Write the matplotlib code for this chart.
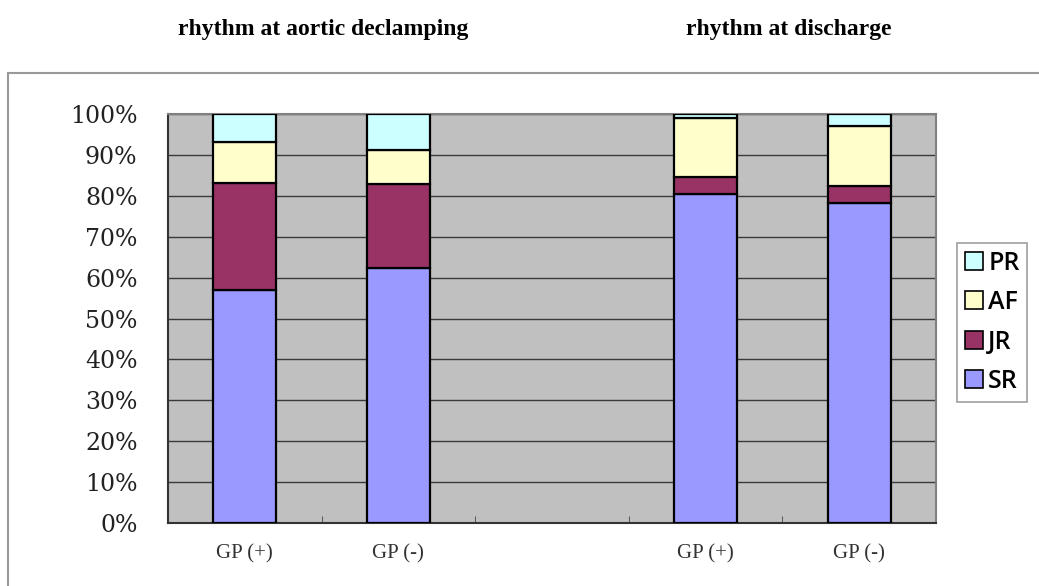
import matplotlib
matplotlib.use("Agg")
import matplotlib.pyplot as plt
from matplotlib.patches import Rectangle, Patch
import numpy as np

# stacked rhythm shares (%) per group; the middle slot is a spacer
groups = ["GP (+)", "GP (-)", "", "GP (+)", "GP (-)"]
sr = [57.0, 62.3, 0, 80.4, 78.3]
jr = [26.2, 20.5, 0, 4.2, 4.1]
af = [10.0, 8.5, 0, 14.3, 14.7]
pr = [6.8, 8.7, 0, 1.1, 2.9]

series = ["SR", "JR", "AF", "PR"]
colors = {"SR": "#9999FF", "JR": "#993366", "AF": "#FFFFCC", "PR": "#CCFFFF"}
values = {"SR": sr, "JR": jr, "AF": af, "PR": pr}
panel_titles = ["rhythm at aortic declamping", "rhythm at discharge"]

fig = plt.figure(figsize=(10.39, 5.86), dpi=100)
ax = fig.add_axes([168 / 1039, 1 - 523 / 586, 768 / 1039, 409 / 586])
ax.set_facecolor("#C0C0C0")

x = np.arange(len(groups))
bottom = np.zeros(len(groups))
for name in series:
    v = np.array(values[name])
    mask = v > 0
    ax.bar(x[mask], v[mask], width=0.41, bottom=bottom[mask],
           color=colors[name], edgecolor="black", linewidth=1.6, zorder=3)
    bottom += v

ax.set_xlim(-0.5, len(groups) - 0.5)
ax.set_ylim(0, 100)
ax.set_yticks(np.arange(0, 101, 10))
ax.set_yticklabels([f"{t}%" for t in range(0, 101, 10)], family="DejaVu Serif",
                   fontsize=17, color="#222222")
ax.tick_params(axis="y", length=0, pad=22)
ax.yaxis.grid(True, color="#3a3a3a", linewidth=1.0, zorder=1)
ax.set_axisbelow(True)

ax.set_xticks(x)
ax.set_xticklabels(groups, family="Liberation Serif", fontsize=15, color="#333333")
ax.tick_params(axis="x", length=0, pad=15)
ax.set_xticks(np.arange(0.5, len(groups) - 1, 1), minor=True)
ax.tick_params(axis="x", which="minor", direction="in", length=5, color="#444444")

for side in ["top", "right"]:
    ax.spines[side].set_color("#808080")
    ax.spines[side].set_linewidth(1.5)
for side in ["left", "bottom"]:
    ax.spines[side].set_color("#333333")
    ax.spines[side].set_linewidth(1.5)

# panel headings above the two halves
fig.text(323 / 1039, 1 - 30 / 586, panel_titles[0], ha="center", va="center",
         family="Liberation Serif", fontweight="bold", fontsize=17)
fig.text(789 / 1039, 1 - 30 / 586, panel_titles[1], ha="center", va="center",
         family="Liberation Serif", fontweight="bold", fontsize=17)

# outer chart frame
fig.patches.append(Rectangle((8 / 1039, -0.1), 1.2, 0.1 + 1 - 73 / 586,
                             transform=fig.transFigure, fill=False,
                             edgecolor="#999999", linewidth=1.5))

leg_items = [Patch(facecolor=colors[n], edgecolor="black", linewidth=1.2, label=n)
             for n in reversed(series)]
leg = fig.legend(handles=leg_items, loc="upper left",
                 bbox_to_anchor=(957 / 1039, 1 - 243 / 586),
                 prop={"family": "Open Sans", "size": 18, "weight": "semibold"},
                 frameon=True, fancybox=False, handlelength=0.75, handleheight=0.75,
                 handletextpad=0.2, labelspacing=0.58, borderpad=0.3,
                 borderaxespad=0)
leg.get_frame().set_edgecolor("#888888")
leg.get_frame().set_linewidth(1.2)

fig.savefig("out.png", dpi=100)
